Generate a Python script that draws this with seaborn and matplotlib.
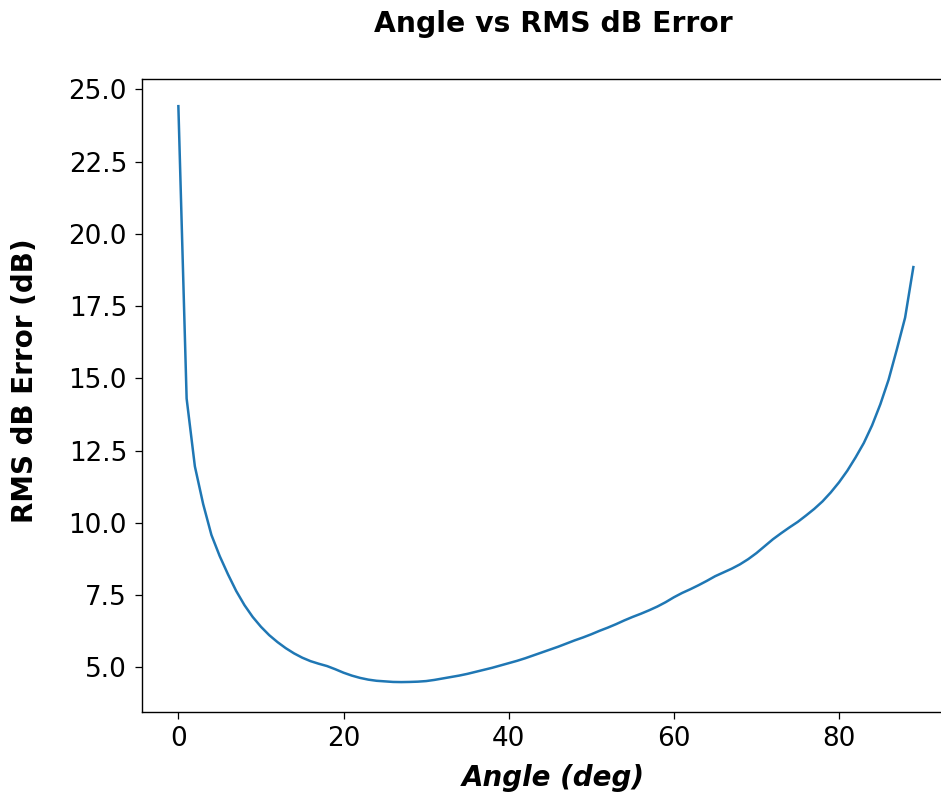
import matplotlib
matplotlib.use("Agg")
import matplotlib.pyplot as plt
import seaborn as sns
import pandas as pd

# RMS dB error for each incidence angle (degrees)
angle_deg = list(range(0, 90))
rms_db_error = [
    24.42, 14.30, 11.95, 10.65, 9.58, 8.85, 8.22, 7.64, 7.15, 6.74,
    6.40, 6.11, 5.87, 5.66, 5.48, 5.33, 5.21, 5.12, 5.04, 4.93,
    4.81, 4.71, 4.63, 4.57, 4.53, 4.51, 4.49, 4.485, 4.49, 4.50,
    4.52, 4.56, 4.61, 4.66, 4.71, 4.77, 4.84, 4.91, 4.98, 5.06,
    5.14, 5.22, 5.31, 5.41, 5.51, 5.61, 5.71, 5.82, 5.93, 6.03,
    6.14, 6.26, 6.37, 6.49, 6.62, 6.74, 6.85, 6.97, 7.10, 7.25,
    7.42, 7.57, 7.70, 7.84, 7.99, 8.15, 8.28, 8.41, 8.56, 8.74,
    8.95, 9.19, 9.43, 9.64, 9.84, 10.03, 10.25, 10.48, 10.74, 11.05,
    11.40, 11.80, 12.26, 12.76, 13.37, 14.10, 14.95, 16.00, 17.10, 18.85,
]

df = pd.DataFrame({"Angle (deg)": angle_deg, "RMS dB Error (dB)": rms_db_error})

W, H = 941, 794
fig = plt.figure(figsize=(W / 100, H / 100), dpi=100)
ax = fig.add_axes([141.7 / W, 82.3 / H, 823.6 / W, 632.4 / H])

sns.lineplot(data=df, x="Angle (deg)", y="RMS dB Error (dB)", ax=ax,
             color="#1f77b4", linewidth=1.8)

ax.set_xlim(-4.44, 95.29)
ax.set_ylim(3.46, 25.35)
ax.set_xticks([0, 20, 40, 60, 80])
ax.set_yticks([5.0, 7.5, 10.0, 12.5, 15.0, 17.5, 20.0, 22.5, 25.0])
ax.set_yticklabels(["5.0", "7.5", "10.0", "12.5", "15.0", "17.5", "20.0", "22.5", "25.0"])

ax.tick_params(axis="both", labelsize=18.9, length=5, width=0.9, pad=5.5)
for sp in ax.spines.values():
    sp.set_linewidth(1.0)
ax.spines["right"].set_visible(False)

ax.set_xlabel("Angle (deg)", fontsize=20, fontweight="bold", fontstyle="italic")
ax.set_ylabel("RMS dB Error (dB)", fontsize=20, fontweight="bold")
ax.xaxis.set_label_coords(0.5, -0.0827)
ax.yaxis.set_label_coords(-0.1247, 0.5237)

fig.text(553 / W, 1 - 32 / H, "Angle vs RMS dB Error", ha="center", va="baseline",
         fontsize=20.3, fontweight="bold")

fig.savefig("out.png", dpi=100)
